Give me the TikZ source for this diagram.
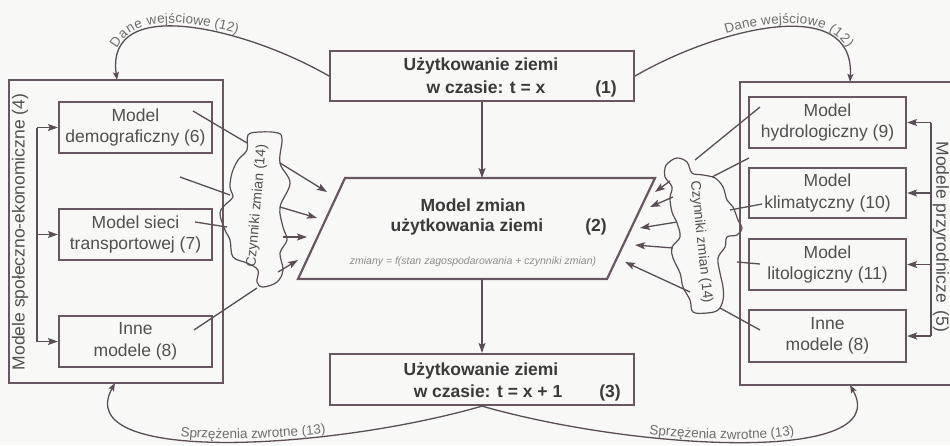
\documentclass[tikz,border=0pt]{standalone}
\usepackage{fontspec}
\setmainfont{Liberation Sans}
\usetikzlibrary{arrows.meta,decorations.text}
\definecolor{ln}{HTML}{5B4D56}
\definecolor{bx}{HTML}{6A5562}
\definecolor{tx}{HTML}{505050}
\definecolor{tb}{HTML}{3A3A3A}
\definecolor{lb}{HTML}{6E6E6E}
\definecolor{fm}{HTML}{8C8C8C}
\definecolor{bg}{HTML}{F8F8F6}
\begin{document}
\begin{tikzpicture}[x=1pt,y=-1pt,
  mbox/.style={draw=bx,line width=2.2pt,inner sep=0pt,minimum height=51pt,align=center,font=\fontsize{17.5}{21.5}\selectfont,text=tx},
  lbox/.style={mbox,minimum width=153pt},
  rbox/.style={mbox,minimum width=157pt},
  outer/.style={draw=bx,line width=2.2pt,inner sep=0pt},
  tbox/.style={draw=bx,line width=2.2pt,inner sep=0pt,minimum width=304pt,minimum height=50pt},
  btxt/.style={font=\fontsize{17.5}{21}\selectfont\bfseries,text=tb,inner sep=0pt,anchor=base},
  conn/.style={draw=ln,line width=1.3pt},
  arr/.style={conn,-{Stealth[length=10pt,width=7pt,inset=2pt]}},
  arcarr/.style={conn,-{Stealth[length=8pt,width=6pt,inset=1.5pt]}},
  cloudline/.style={draw=ln,line width=1.2pt},
  clab/.style={font=\fontsize{14}{14}\selectfont,text=tx,inner sep=0pt},
  sidelab/.style={font=\fontsize{17.5}{18}\selectfont,text=tx,inner sep=0pt},
]
\fill[bg] (0,0) rectangle (950,445);
\useasboundingbox (0,0) rectangle (950,445);

% outer frames
\node[outer,minimum width=214pt,minimum height=303pt] (lout) at (116,231.5) {};
\node[outer,minimum width=222pt,minimum height=303pt] (rout) at (851,233.5) {};

% model boxes
\node[lbox] (b6) at (135.5,127.5) {Model\\demograficzny (6)};
\node[lbox] (b7) at (135.5,234.5) {Model sieci\\transportowej (7)};
\node[lbox] (b8) at (135.5,341.5) {Inne\\modele (8)};
\node[rbox] (b9) at (827.5,122.5) {Model\\hydrologiczny (9)};
\node[rbox,minimum height=50pt] (b10) at (827.5,193) {Model\\klimatyczny (10)};
\node[rbox] (b11) at (827.5,264.5) {Model\\litologiczny (11)};
\node[rbox,minimum height=52pt] (b12) at (827.5,336) {Inne\\modele (8)};

% side labels
\node[sidelab,rotate=90] (l4) at (20,232) {Modele społeczno-ekonomiczne (4)};
\node[sidelab,rotate=-90] (l5) at (941,237) {Modele przyrodnicze\hspace{3pt} (5)};

% brackets
\coordinate (lbr) at (37,0);
\coordinate (rbr) at (931,0);
\draw[conn] (b6.west -| lbr) -- (b8.west -| lbr);
\draw[arr] (b6.west -| lbr) -- (b6.west);
\draw[arr] (b7.west -| lbr) -- (b7.west);
\draw[arr] (b8.west -| lbr) -- (b8.west);
\draw[conn] (b9.east -| rbr) -- (b12.east -| rbr);
\draw[arr] (b9.east -| rbr) -- (b9.east);
\draw[arr] (b10.east -| rbr) -- (b10.east);
\draw[arr] (b11.east -| rbr) -- (b11.east);
\draw[arr] (b12.east -| rbr) -- (b12.east);

% top box
\node[tbox] (t1) at (482,76) {};
\node[btxt] (t1a) at (481,70) {Użytkowanie ziemi};
\node[btxt] (t1b) at (486,93) {w czasie: t = x};
\node[btxt] (t1c) at (606,93) {(1)};

% bottom box
\node[tbox,minimum height=51pt] (t3) at (482,379.5) {};
\node[btxt] (t3a) at (481,375) {Użytkowanie ziemi};
\node[btxt] (t3b) at (488,397) {w czasie: t = x + 1};
\node[btxt] (t3c) at (610,397) {(3)};

% parallelogram
\coordinate (p1) at (345,178);
\coordinate (p2) at (655,178);
\coordinate (p3) at (607,279);
\coordinate (p4) at (298,279);
\draw[draw=bx,line width=2.2pt] (p1) -- (p2) -- (p3) -- (p4) -- cycle;
\node[btxt] (pa) at (473,211) {Model zmian};
\node[btxt] (pb) at (467,231) {użytkowania ziemi};
\node[btxt] (pc) at (596,231) {(2)};
\node[font=\fontsize{10.5}{11}\selectfont\itshape,text=fm,anchor=base,inner sep=0pt] (pf) at (473,264) {zmiany = f(stan zagospodarowania + czynniki zmian)};

\coordinate (ptop) at (482,178);
\coordinate (pbot) at (482,279);
\draw[arr] (t1.south) -- (ptop);
\draw[arr] (pbot) -- (t3.north);

% clouds
\draw[cloudline] plot[smooth cycle,tension=0.6] coordinates {(248,135) (260,132) (278,133) (282,140) (280,163) (290,183) (280,207) (283,227) (287,240) (280,253) (283,270) (277,282) (263,287) (257,282) (258,270) (247,263) (233,257) (230,240) (225,230) (220,213) (227,203) (233,197) (230,187) (232,173) (238,160) (247,150)};
\draw[cloudline] plot[smooth cycle,tension=0.6] coordinates {(668,163) (677,158) (687,162) (692,173) (703,175) (715,178) (723,187) (727,200) (733,207) (738,220) (742,228) (737,235) (727,237) (725,247) (718,258) (720,273) (723,287) (723,300) (718,310) (707,313) (693,312) (690,300) (683,287) (680,273) (673,258) (672,247) (680,237) (677,223) (672,212) (670,198) (672,187) (665,177) (665,168)};
\node[clab,rotate=85] (cl) at (257,206) {Czynniki zmian (14)};
\node[clab,rotate=-84] (cr) at (701,242) {Czynniki zmian (14)};

% left links
\coordinate (l1s) at (193,111); \coordinate (l1e) at (247,143);
\coordinate (l2s) at (180,177); \coordinate (l2e) at (230,195);
\coordinate (l3s) at (195,222); \coordinate (l3e) at (227,227);
\coordinate (l4s) at (194,330); \coordinate (l4e) at (257,288);
\draw[conn] (l1s) -- (l1e);
\draw[conn] (l2s) -- (l2e);
\draw[conn] (l3s) -- (l3e);
\draw[conn] (l4s) -- (l4e);
\coordinate (a1s) at (280,163); \coordinate (a1e) at (327,192);
\coordinate (a2s) at (280,207); \coordinate (a2e) at (317,218);
\coordinate (a3s) at (283,237); \coordinate (a3e) at (307,237);
\coordinate (a4s) at (278,272); \coordinate (a4e) at (298,260);
\draw[arr] (a1s) -- (a1e);
\draw[arr] (a2s) -- (a2e);
\draw[arr] (a3s) -- (a3e);
\draw[arr] (a4s) -- (a4e);

% right links
\coordinate (r1s) at (760,107); \coordinate (r1e) at (695,160);
\coordinate (r2s) at (749,158); \coordinate (r2e) at (712,177);
\coordinate (r3s) at (762,204); \coordinate (r3e) at (730,210);
\coordinate (r4s) at (760,264); \coordinate (r4e) at (737,262);
\coordinate (r5s) at (760,330); \coordinate (r5e) at (720,308);
\draw[conn] (r1s) -- (r1e);
\draw[conn] (r2s) -- (r2e);
\draw[conn] (r3s) -- (r3e);
\draw[conn] (r4s) -- (r4e);
\draw[conn] (r5s) -- (r5e);
\coordinate (c1s) at (670,181); \coordinate (c1e) at (655,192);
\coordinate (c2s) at (673,197); \coordinate (c2e) at (650,207);
\coordinate (c3s) at (677,222); \coordinate (c3e) at (640,228);
\coordinate (c4s) at (673,248); \coordinate (c4e) at (635,245);
\coordinate (c5s) at (690,292); \coordinate (c5e) at (625,262);
\draw[arr] (c1s) -- (c1e);
\draw[arr] (c2s) -- (c2e);
\draw[arr] (c3s) -- (c3e);
\draw[arr] (c4s) -- (c4e);
\draw[arr] (c5s) -- (c5e);

% arcs
\coordinate (lt) at (117,80);
\coordinate (rt) at (850,82);
\coordinate (lbt) at (115,383);
\coordinate (rbt) at (850,385);
\draw[arcarr] (t1.west) .. controls (250,30) and (105,-8) .. (lt);
\draw[arcarr] (t1.east) .. controls (714,30) and (855,-8) .. (rt);
\draw[arcarr] (t3.south) .. controls (330,450) and (70,465) .. (lbt);
\draw[arcarr] (t3.south) .. controls (635,450) and (895,465) .. (rbt);

\path[decorate,decoration={text along path,text={|\fontsize{13.5}{14}\selectfont|Dane wejściowe (12)},text color=lb,raise=4pt,text align={align=left,left indent=30pt}}] (lt) .. controls (105,-8) and (250,30) .. (t1.west);
\path[decorate,decoration={text along path,text={|\fontsize{13.5}{14}\selectfont|Dane wejściowe (12)},text color=lb,raise=4pt,text align={align=left,left indent=100pt}}] (t1.east) .. controls (714,30) and (855,-8) .. (rt);
\path[decorate,decoration={text along path,text={|\fontsize{13.5}{14}\selectfont|Sprzężenia zwrotne (13)},text color=lb,raise=3pt,text align={align=left,left indent=105pt}}] (lbt) .. controls (70,465) and (330,450) .. (t3.south);
\path[decorate,decoration={text along path,text={|\fontsize{13.5}{14}\selectfont|Sprzężenia zwrotne (13)},text color=lb,raise=3pt,text align={align=left,left indent=170pt}}] (t3.south) .. controls (635,450) and (895,465) .. (rbt);
\end{tikzpicture}
\end{document}
